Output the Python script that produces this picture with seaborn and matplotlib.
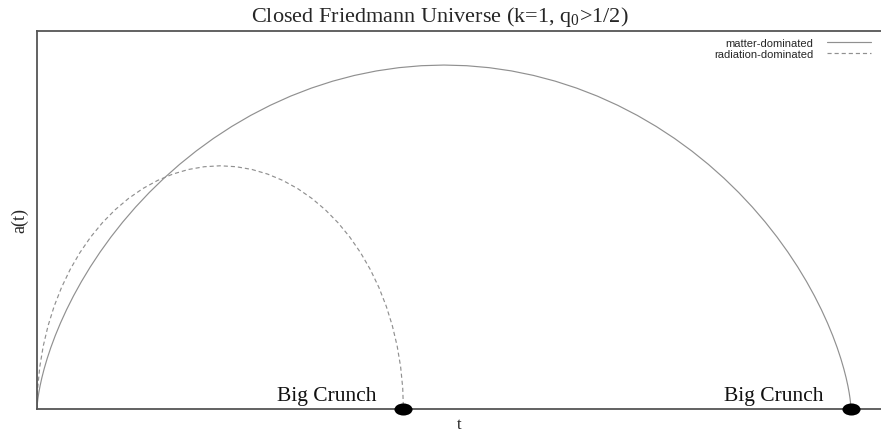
import numpy as np
import pandas as pd
import matplotlib
matplotlib.use("Agg")
import matplotlib.pyplot as plt
from matplotlib.path import Path
from matplotlib.transforms import Affine2D
import seaborn as sns

# Scale factor a(t) for a closed universe, matter-dominated case
matter_t = [0.0, 0.0001, 0.0009, 0.0030, 0.0070, 0.0137, 0.0236, 0.0373, 0.0553,
            0.0783, 0.1066, 0.1408, 0.1812, 0.2282, 0.2820, 0.3431, 0.4115, 0.4873,
            0.5708, 0.6619, 0.7605, 0.8667, 0.9802, 1.1008, 1.2284, 1.3625, 1.5029,
            1.6491, 1.8007, 1.9572, 2.1180, 2.2826, 2.4505, 2.6210, 2.7934, 2.9672,
            3.1416, 3.3160, 3.4898, 3.6622, 3.8327, 4.0005, 4.1652, 4.3260, 4.4825,
            4.6341, 4.7803, 4.9207, 5.0548, 5.1824, 5.3030, 5.4165, 5.5227, 5.6213,
            5.7124, 5.7959, 5.8717, 5.9401, 6.0011, 6.0550, 6.1020, 6.1424, 6.1766,
            6.2049, 6.2278, 6.2459, 6.2596, 6.2695, 6.2761, 6.2802, 6.2823, 6.2831, 6.2832]
matter_a = [0.0, 0.0038, 0.0152, 0.0341, 0.0603, 0.0937, 0.1340, 0.1808, 0.2340,
            0.2929, 0.3572, 0.4264, 0.5000, 0.5774, 0.6580, 0.7412, 0.8264, 0.9128,
            1.0000, 1.0872, 1.1736, 1.2588, 1.3420, 1.4226, 1.5000, 1.5736, 1.6428,
            1.7071, 1.7660, 1.8192, 1.8660, 1.9063, 1.9397, 1.9659, 1.9848, 1.9962,
            2.0000, 1.9962, 1.9848, 1.9659, 1.9397, 1.9063, 1.8660, 1.8192, 1.7660,
            1.7071, 1.6428, 1.5736, 1.5000, 1.4226, 1.3420, 1.2588, 1.1736, 1.0872,
            1.0000, 0.9128, 0.8264, 0.7412, 0.6580, 0.5774, 0.5000, 0.4264, 0.3572,
            0.2929, 0.2340, 0.1808, 0.1340, 0.0937, 0.0603, 0.0341, 0.0152, 0.0038, 0.0]

# Radiation-dominated case
rad_t = [0.0, 0.0054, 0.0215, 0.0482, 0.0853, 0.1325, 0.1895, 0.2558, 0.3309,
         0.4142, 0.5052, 0.6031, 0.7071, 0.8165, 0.9305, 1.0482, 1.1686, 1.2910,
         1.4142, 1.5375, 1.6598, 1.7802, 1.8979, 2.0119, 2.1213, 2.2254, 2.3233,
         2.4142, 2.4976, 2.5727, 2.6390, 2.6959, 2.7431, 2.7802, 2.8069, 2.8230, 2.8284]
rad_a = [0.0, 0.1233, 0.2456, 0.3660, 0.4837, 0.5977, 0.7071, 0.8112, 0.9090,
         1.0000, 1.0834, 1.1585, 1.2247, 1.2817, 1.3289, 1.3660, 1.3927, 1.4088,
         1.4142, 1.4088, 1.3927, 1.3660, 1.3289, 1.2817, 1.2247, 1.1585, 1.0834,
         1.0000, 0.9090, 0.8112, 0.7071, 0.5977, 0.4837, 0.3660, 0.2456, 0.1233, 0.0]

series_names = ["matter-dominated", "radiation-dominated"]
crunch_label = "Big Crunch"

df = pd.concat([
    pd.DataFrame({"t": matter_t, "a": matter_a, "model": series_names[0]}),
    pd.DataFrame({"t": rad_t, "a": rad_a, "model": series_names[1]}),
], ignore_index=True)

sns.set_style("white")
plt.rcParams["mathtext.fontset"] = "custom"
plt.rcParams["mathtext.rm"] = "Liberation Serif"
plt.rcParams["mathtext.it"] = "Liberation Serif:italic"

W, H = 881, 435
fig = plt.figure(figsize=(W / 100, H / 100), dpi=100)
ax = fig.add_axes([37 / W, 25 / H, 844 / W, 378 / H])

line_gray = "#909090"
sns.lineplot(data=df, x="t", y="a", hue="model", style="model",
             palette={series_names[0]: line_gray, series_names[1]: line_gray},
             dashes={series_names[0]: "", series_names[1]: (3.5, 2.5)},
             sort=False, estimator=None, linewidth=0.85, ax=ax)

ax.set_xlim(0, 6.515)
ax.set_ylim(0, 2.198)
ax.set_xticks([])
ax.set_yticks([])
for side in ["left", "top", "bottom"]:
    ax.spines[side].set_color("#555555")
    ax.spines[side].set_linewidth(1.3)
ax.spines["right"].set_visible(False)

# Big Crunch points at the end of each curve
ellipse = Path.unit_circle().transformed(Affine2D().scale(1.5, 1.0))
crunch_t = [rad_t[-1], matter_t[-1]]
ax.scatter(crunch_t, [0, 0], marker=ellipse, s=170, color="black",
           zorder=5, clip_on=False, linewidths=0)
for tc in crunch_t:
    ax.text(tc - 0.21, 0.055, crunch_label, ha="right", va="baseline",
            family="Liberation Serif", fontsize=15.5, color="#111111")

ax.set_xlabel("t", family="Liberation Serif", fontsize=12, labelpad=5)
ax.set_ylabel("a(t)", family="Liberation Serif", fontsize=13, labelpad=6)

fig.text(440 / W, 1 - 22 / H, r"Closed Friedmann Universe (k=1, q$_0$>1/2)",
         ha="center", va="baseline", family="Liberation Serif", fontsize=16)

handles, labels = ax.get_legend_handles_labels()
ax.legend(handles, labels, loc="upper right",
          bbox_to_anchor=(871 / W, 1 - 39 / H), bbox_transform=fig.transFigure,
          frameon=False, markerfirst=False, handlelength=4.0, handletextpad=1.2,
          labelspacing=0.05, borderpad=0, borderaxespad=0,
          prop={"family": "Liberation Sans", "size": 8.0})

fig.savefig("out.png", dpi=100)
